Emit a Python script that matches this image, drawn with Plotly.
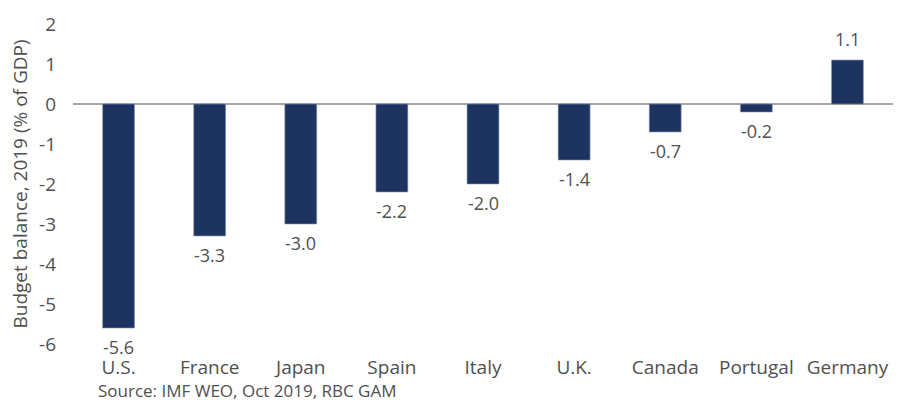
import plotly.graph_objects as go

countries = ["U.S.", "France", "Japan", "Spain", "Italy", "U.K.", "Canada", "Portugal", "Germany"]
balance = [-5.6, -3.3, -3.0, -2.2, -2.0, -1.4, -0.7, -0.2, 1.1]
y_ticks = [-6, -5, -4, -3, -2, -1, 0, 1, 2]

FONT = "'Open Sans', sans-serif"
TEXT = "#505050"

fig = go.Figure()
fig.add_trace(go.Bar(
    x=countries,
    y=balance,
    marker=dict(color="#1d3461", line=dict(color="#8a96b3", width=0.6)),
    width=0.35,
    hoverinfo="x+y",
))

# value labels just past the end of each bar
labels = [
    dict(
        x=c, y=v, xref="x", yref="y",
        text=f"{v:.1f}",
        showarrow=False,
        yanchor="middle",
        yshift=21 if v >= 0 else -19,
        font=dict(family=FONT, size=18, color=TEXT),
    )
    for c, v in zip(countries, balance)
]

source = dict(
    text="Source: IMF WEO, Oct 2019, RBC GAM",
    xref="paper", yref="paper",
    x=(96 - 73) / (904 - 73 - 11), y=-(391 - 344) / (403 - 20 - 59),
    xanchor="left", yanchor="middle",
    showarrow=False,
    font=dict(family=FONT, size=17, color=TEXT),
)

fig.update_layout(
    width=904,
    height=403,
    margin=dict(l=73, r=11, t=20, b=59),
    paper_bgcolor="white",
    plot_bgcolor="white",
    showlegend=False,
    font=dict(family=FONT, color=TEXT),
    xaxis=dict(
        showline=False,
        showgrid=False,
        ticks="",
        tickfont=dict(size=19, color=TEXT),
        ticklabelstandoff=10,
    ),
    yaxis=dict(
        range=[-6, 2],
        tickvals=y_ticks,
        ticktext=[str(v) for v in y_ticks],
        showgrid=False,
        showline=False,
        zeroline=True,
        zerolinecolor="#a6a6a6",
        zerolinewidth=1.5,
        tickfont=dict(size=19, color=TEXT),
        ticklabelstandoff=16,
        title=dict(text="Budget balance, 2019 (% of GDP)",
                   font=dict(size=19, color=TEXT), standoff=6),
    ),
    annotations=labels + [source],
)

fig.write_html("out.html")
